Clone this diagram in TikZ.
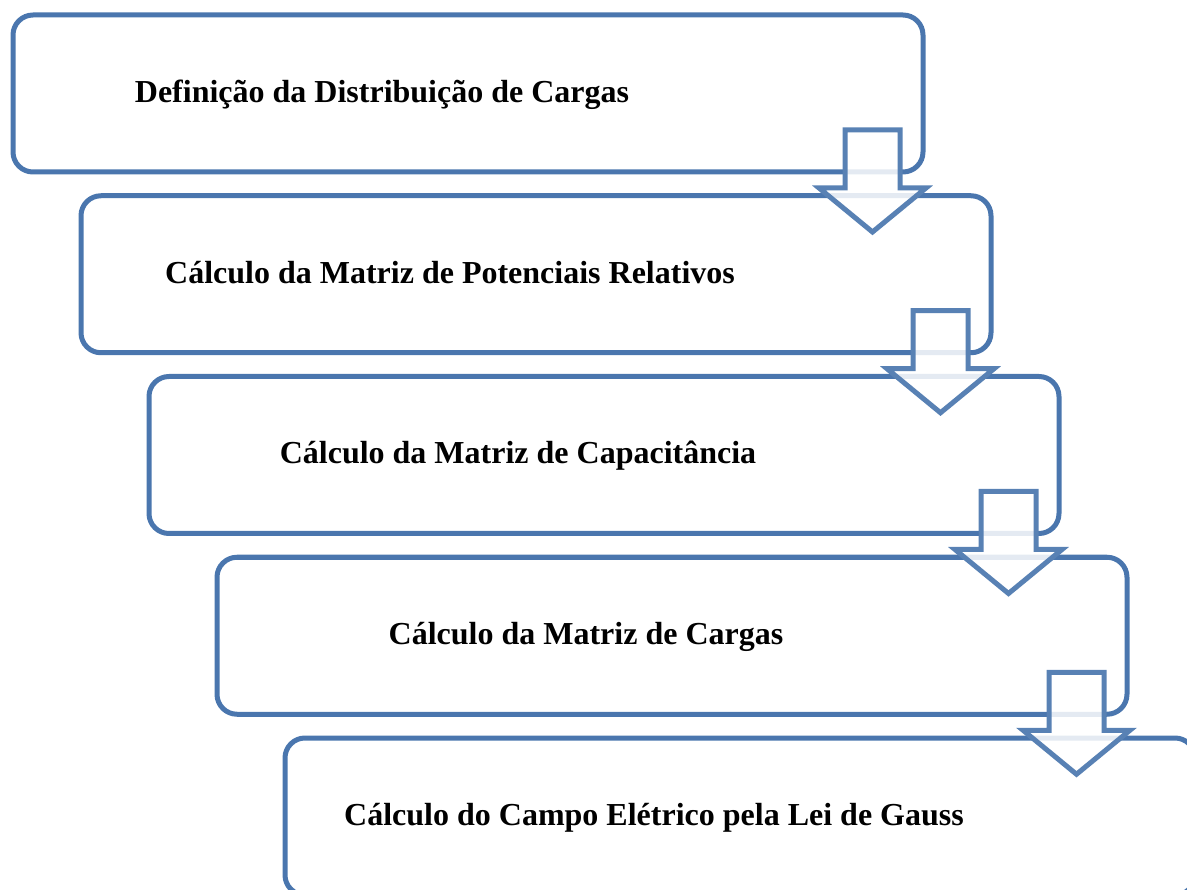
\documentclass[tikz,border=0pt]{standalone}
\usepackage{fontspec}
\setmainfont{Liberation Serif}
\definecolor{boxblue}{RGB}{74,118,174}

\begin{document}
\begin{tikzpicture}[x=1pt,y=-1pt,
  stagebox/.style={draw=boxblue, line width=5pt, outer sep=0pt, rounded corners=20pt,
    minimum width=910pt, minimum height=157pt},
  stagetext/.style={anchor=base, font=\bfseries\fontsize{32}{38}\selectfont},
  flowarrow/.style={draw=boxblue!92, line width=5pt, line join=miter, fill=white, fill opacity=0.85}]

\useasboundingbox (0,0) rectangle (1187,890);
\clip (0,0) rectangle (1187,890);

% define the stages
  \node[stagebox] (b1) at (468,93.5)     {};
  \node[stagebox] (b2) at (536,274.25)   {};
  \node[stagebox] (b3) at (604,455)      {};
  \node[stagebox] (b4) at (672,635.75)   {};
  \node[stagebox] (b5) at (740,816.5)    {};

% the texts, a bit left of the middle
  \node[stagetext] (t1) at ([xshift=-86pt,yshift=-9pt]b1.center) {Definição da Distribuição de Cargas};
  \node[stagetext] (t2) at ([xshift=-86pt,yshift=-9pt]b2.center) {Cálculo da Matriz de Potenciais Relativos};
  \node[stagetext] (t3) at ([xshift=-86pt,yshift=-9pt]b3.center) {Cálculo da Matriz de Capacitância};
  \node[stagetext] (t4) at ([xshift=-86pt,yshift=-9pt]b4.center) {Cálculo da Matriz de Cargas};
  \node[stagetext] (t5) at ([xshift=-86pt,yshift=-9pt]b5.center) {Cálculo do Campo Elétrico pela Lei de Gauss};

% define the links
  \foreach \i in {1,2,3,4}{
    \begin{scope}[shift={(b\i.south east)}]
      \draw[flowarrow] (-78,-42) -- (-23,-42) -- (-23,16) -- (3,16)
        -- (-50.5,60) -- (-104,16) -- (-78,16) -- cycle;
    \end{scope}
  }

\end{tikzpicture}
\end{document}
